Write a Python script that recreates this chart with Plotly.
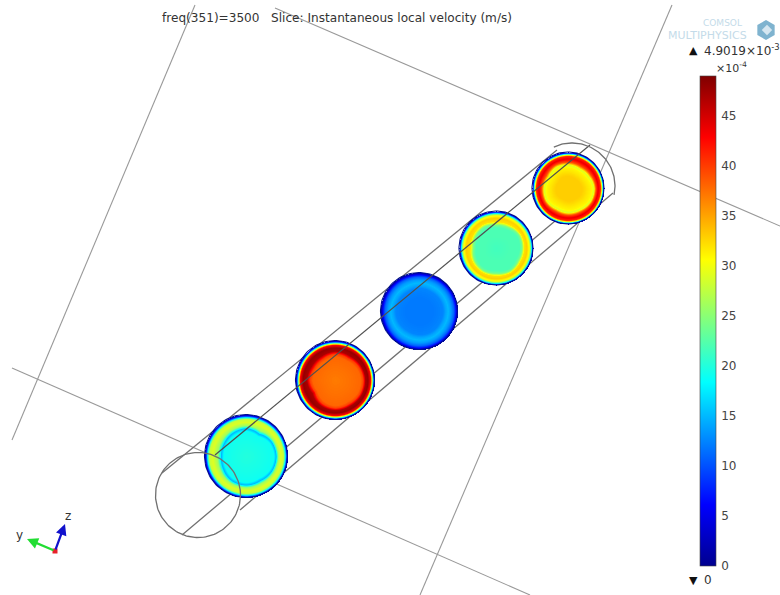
import numpy as np
import plotly.graph_objects as go

# ---- data (values in units of 1e-4 m/s) ----
disc_centres_x = [246, 335, 419, 496, 568]
disc_centres_y = [456, 380, 311, 248, 188]
disc_radii = [41.5, 39.5, 38.5, 37, 36]
profile_pos = [0, .35, .60, .67, .74, .82, .89, .93, .96, .98, 1.0]
disc1_vals = [20, 19.5, 19, 15, 26, 29, 28, 20, 11, 6, 2]
disc2_vals = [37, 37.5, 38, 40, 47, 48, 43, 28, 14, 7, 2]
disc3_vals = [12, 12, 12.5, 14, 15, 13.5, 11, 8, 5, 3, 1]
disc4_vals = [21.5, 22, 22, 24, 32, 33, 30, 23, 13, 7, 2]
disc5_vals = [33, 33, 31, 29, 39, 44, 41, 29, 15, 7, 2]
disc_vals = [disc1_vals, disc2_vals, disc3_vals, disc4_vals, disc5_vals]
wobble = [
    [1.12, 1.06, .92, 1.0, .96, .92, .9, .94, 1.02, 1.04, 1.0, 1.08],
    [1.08, 1.02, .95, 1.0, .93, .92, .96, .88, 1.0, 1.08, 1.03, 1.08],
    [1.02, 1.0, .98, 1.0, .98, 1.0, 1.02, 1.0, .98, 1.0, 1.02, 1.0],
    [1.04, 1.08, .96, .93, 1.0, .96, .92, 1.0, 1.04, 1.0, 1.08, 1.0],
    [1.08, .96, .92, .96, 1.0, .93, 1.0, 1.04, .96, 1.0, 1.0, 1.08],
]
jet_stops = [0, 1 / 8, 3 / 8, 5 / 8, 7 / 8, 1]
jet_colors = ["#00008f", "#0000ff", "#00ffff", "#ffff00", "#ff0000", "#800000"]
cbar_ticks = [0, 5, 10, 15, 20, 25, 30, 35, 40, 45]
value_max = 49.019

# wireframe segments behind the slices: x0, y0, x1, y1
box_lines = [(12, 368, 530, 595), (275, 8, 780, 226), (195, 5, 12, 440), (672, 5, 420, 595)]
tube_lines = [(162, 473, 557, 150), (182, 535, 580, 200), (240, 510, 613, 193)]
front_lines = [(215, 455, 590, 145)]
end_circle = (198, 495, 42.5)
far_arc = (572, 186, 43, -115, 12)

fig = go.Figure()
for cx, cy, R, vals, wob in zip(disc_centres_x, disc_centres_y, disc_radii, disc_vals, wobble):
    xs = np.arange(int(cx - R) - 1, int(cx + R) + 3)
    ys = np.arange(int(cy - R) - 1, int(cy + R) + 3)
    X, Y = np.meshgrid(xs, ys)
    dx, dy = X - cx, Y - cy
    rr = np.hypot(dx, dy) / R
    th = np.degrees(np.arctan2(-dy, dx)) % 360
    s = np.interp(th, np.arange(13) * 30, list(wob) + [wob[0]])
    fade = np.clip((rr - .62) / .22, 0, 1)
    eff = rr / (s + (1 - s) * fade)
    z = np.round(np.interp(eff, profile_pos, vals), 1)
    z[rr > 1] = np.nan
    fig.add_trace(go.Heatmap(x=xs, y=ys, z=z, coloraxis="coloraxis", hoverinfo="skip", showscale=False))
    t = np.linspace(0, 2 * np.pi, 120)
    fig.add_trace(go.Scatter(x=cx + R * np.cos(t), y=cy + R * np.sin(t), mode="lines",
                             line=dict(color="#00108f", width=1.1), hoverinfo="skip", showlegend=False))

shapes = [dict(type="line", x0=a, y0=b, x1=c, y1=d, layer="below",
               line=dict(color="#999999", width=1.1)) for a, b, c, d in box_lines]
shapes += [dict(type="line", x0=a, y0=b, x1=c, y1=d, layer="below",
                line=dict(color="#707070", width=1.3)) for a, b, c, d in tube_lines]

for a, b, c, d in front_lines:
    fig.add_trace(go.Scatter(x=[a, c], y=[b, d], mode="lines", line=dict(color="#505050", width=1.2),
                             hoverinfo="skip", showlegend=False))
t = np.linspace(0, 2 * np.pi, 150)
fig.add_trace(go.Scatter(x=end_circle[0] + end_circle[2] * np.cos(t), y=end_circle[1] + end_circle[2] * np.sin(t),
                         mode="lines", line=dict(color="#707070", width=1.3), hoverinfo="skip", showlegend=False))
t = np.radians(np.linspace(far_arc[3], far_arc[4], 80))
fig.add_trace(go.Scatter(x=far_arc[0] + far_arc[2] * np.cos(t), y=far_arc[1] + far_arc[2] * np.sin(t),
                         mode="lines", line=dict(color="#707070", width=1.3), hoverinfo="skip", showlegend=False))
# triad origin and logo cube
fig.add_trace(go.Scatter(x=[55], y=[551], mode="markers", marker=dict(symbol="square", size=5, color="#e8202a"),
                         hoverinfo="skip", showlegend=False))
fig.add_trace(go.Scatter(x=[766], y=[30], mode="markers", marker=dict(symbol="hexagon", size=20, color="#7fb3cf"),
                         hoverinfo="skip", showlegend=False))
fig.add_trace(go.Scatter(x=[767], y=[30], mode="markers", marker=dict(symbol="diamond", size=8, color="#d5e6f0"),
                         hoverinfo="skip", showlegend=False))

FONT = "DejaVu Sans"
ann = [
    dict(x=160, y=18, text="freq(351)=3500   Slice: Instantaneous local velocity (m/s)", size=12.1, xanchor="left"),
    dict(x=687, y=50, text="▲", size=11, xanchor="left", color="#111"),
    dict(x=702, y=50, text="4.9019×10<sup>-3</sup>", size=12, xanchor="left"),
    dict(x=714, y=67, text="×10<sup>-4</sup>", size=11, xanchor="left"),
    dict(x=687, y=580, text="▼", size=11, xanchor="left", color="#111"),
    dict(x=702, y=580, text="0", size=12, xanchor="left"),
    dict(x=19, y=535, text="y", size=12, xanchor="center"),
    dict(x=68, y=516, text="z", size=12, xanchor="center"),
    dict(x=722, y=23, text="COMSOL", size=9, xanchor="center", color="#c4dbe9"),
    dict(x=707, y=35, text="MULTIPHYSICS", size=11, xanchor="center", color="#c4dbe9"),
]
annotations = [dict(x=a["x"], y=a["y"], text=a["text"], xref="x", yref="y", showarrow=False, xanchor=a["xanchor"],
                    yanchor="middle", font=dict(family=FONT, size=a["size"], color=a.get("color", "#333")))
               for a in ann]
annotations += [
    dict(x=27, y=539, ax=55, ay=551, xref="x", yref="y", axref="x", ayref="y", text="", showarrow=True,
         arrowhead=2, arrowsize=1, arrowwidth=2.2, arrowcolor="#22dd33"),
    dict(x=65, y=524, ax=55, ay=551, xref="x", yref="y", axref="x", ayref="y", text="", showarrow=True,
         arrowhead=2, arrowsize=1, arrowwidth=2.2, arrowcolor="#1111cc"),
]

fig.update_layout(
    width=780, height=595, margin=dict(l=0, r=0, t=0, b=0), paper_bgcolor="white", plot_bgcolor="white",
    showlegend=False, shapes=shapes, annotations=annotations,
    xaxis=dict(range=[0, 780], visible=False, fixedrange=True),
    yaxis=dict(range=[595, 0], visible=False, fixedrange=True),
    coloraxis=dict(cmin=0, cmax=value_max, showscale=True,
                   colorscale=[[s, c] for s, c in zip(jet_stops, jet_colors)],
                   colorbar=dict(x=700 / 780, xanchor="left", y=1 - 76 / 595, yanchor="top",
                                 lenmode="pixels", len=490, thicknessmode="pixels", thickness=16,
                                 xpad=0, ypad=0, outlinewidth=0.6, outlinecolor="#444",
                                 tickmode="array", tickvals=cbar_ticks, ticks="outside", ticklen=3,
                                 tickcolor="rgba(0,0,0,0)",
                                 tickfont=dict(family=FONT, size=12, color="#444"))),
)
fig.write_html("out.html", config=dict(displayModeBar=False),
               post_script="document.body.style.margin='0';document.body.style.overflow='hidden';")
